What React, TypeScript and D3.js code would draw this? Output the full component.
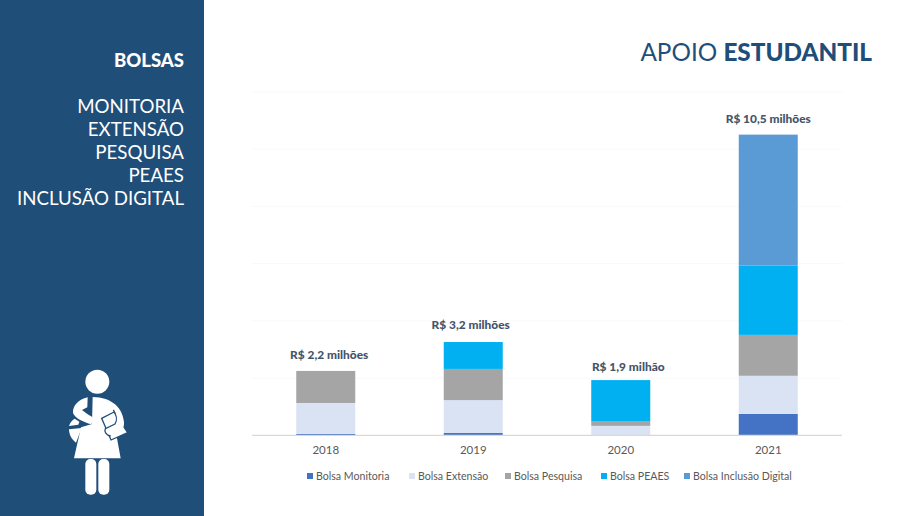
import * as React from "react";
import * as d3 from "d3";

const years = ["2018", "2019", "2020", "2021"];
const seriesNames = ["Bolsa Monitoria", "Bolsa Extensão", "Bolsa Pesquisa", "Bolsa PEAES", "Bolsa Inclusão Digital"];
const monitoria = [0.05, 0.08, 0, 0.75];
const extensao = [1.08, 1.15, 0.33, 1.33];
const pesquisa = [1.12, 1.09, 0.17, 1.43];
const peaes = [0, 0.94, 1.43, 2.42];
const inclusao = [0, 0, 0, 4.58];
const totals = ["R$ 2,2 milhões", "R$ 3,2 milhões", "R$ 1,9 milhão", "R$ 10,5 milhões"];
const sideItems = ["MONITORIA", "EXTENSÃO", "PESQUISA", "PEAES", "INCLUSÃO DIGITAL"];
const gridTicks = [2, 4, 6, 8, 10, 12];
const seriesColors = ["#4472c4", "#dae3f3", "#a5a5a5", "#00b0f0", "#5b9bd5"];

const seriesValues = [monitoria, extensao, pesquisa, peaes, inclusao];
const rows = years.map((year, i) => {
  const row: Record<string, number | string> = { year };
  seriesNames.forEach((name, s) => {
    row[name] = seriesValues[s][i];
  });
  return row;
});

const navy = "#1f4e79";
const labelFont = "Lato, sans-serif";
// the total labels were nudged by hand in the original
const labelShiftX = [3.5, -2.5, 7.5, 0];
const labelShiftY = [0, -1, 3, 0];

// rough pictogram of the student, drawn at 3x and scaled down
const StudentIcon = () => (
  <g transform="translate(0,350) scale(0.3333)" fill="#fff">
    <circle cx={292} cy={95} r={36} />
    <path d="M278 141 C335 141 372 175 372 222 L345 232 L362 325 L222 325 L243 232 L276 222 Z" />
    <path d="M263 142 C235 148 218 168 219 188 C224 205 250 215 274 223 L283 205 L262 192 L246 180 L262 172 Z" />
    <path d="M207 228 C210 218 216 210 224 206 L238 215 L235 224 Z" />
    <path d="M207 238 L245 234 L228 278 C214 268 207 252 207 238 Z" />
    <path d="M305 205 L342 186 L383 248 L333 270 Z" stroke={navy} strokeWidth={4} />
    <path d="M340 180 C350 195 352 212 345 222 L316 236 C312 245 318 256 332 258 C355 250 372 240 372 222 C372 205 358 190 340 180 Z" />
    <path d="M340 180 C350 195 352 212 345 222 L316 236 C312 245 318 256 332 258" fill="none" stroke={navy} strokeWidth={4} />
    <rect x={256} y={327} width={33} height={107} rx={15} />
    <rect x={295} y={327} width={33} height={107} rx={15} />
  </g>
);

const App = () => {
  const x = d3.scaleBand().domain(years).range([252, 842]).paddingInner(0.6).paddingOuter(0.3);
  const y = d3.scaleLinear().domain([0, 12]).range([435.3, 92]);
  const color = d3.scaleOrdinal<string, string>().domain(seriesNames).range(seriesColors);
  const legendX = d3.scaleOrdinal<string, number>().domain(seriesNames).range([307, 409, 505, 601, 684]);
  const stacked = d3.stack<any>().keys(seriesNames)(rows);
  const tops = years.map((_, i) => y(d3.sum(seriesValues, (s) => s[i])));

  return (
    <svg width={919} height={516} style={{ position: "absolute", left: 0, top: 0, background: "#fff" }}>
      <rect width={204} height={516} fill={navy} />
      <text x={184} y={67} textAnchor="end" fill="#fff" fontFamily={labelFont} fontWeight={900} fontSize={18.5}>
        BOLSAS
      </text>
      {sideItems.map((item, i) => (
        <text key={item} x={184} y={113 + i * 23} textAnchor="end" fill="#fff" fontFamily={labelFont} fontSize={18.7}>
          {item}
        </text>
      ))}
      <StudentIcon />

      <text x={872} y={61} textAnchor="end" fill={navy} fontFamily={labelFont} fontSize={24.3}>
        APOIO <tspan fontWeight={900}>ESTUDANTIL</tspan>
      </text>

      {gridTicks.map((t) => (
        <line key={t} x1={252} x2={842} y1={y(t)} y2={y(t)} stroke="#f9f9f9" />
      ))}

      {stacked.map((layer) => (
        <g key={layer.key} fill={color(layer.key)}>
          {layer.map((d, i) => (
            <rect key={years[i]} x={x(years[i])} width={x.bandwidth()} y={y(d[1])} height={y(d[0]) - y(d[1])} />
          ))}
        </g>
      ))}

      <line x1={252} x2={842} y1={y(0)} y2={y(0)} stroke="#d9d9d9" strokeWidth={1.2} />

      {years.map((year, i) => (
        <g key={year} textAnchor="middle" fontFamily={labelFont}>
          <text x={x(year)! + x.bandwidth() / 2} y={454} fontSize={11.5} fill="#595959">
            {year}
          </text>
          <text
            x={x(year)! + x.bandwidth() / 2 + labelShiftX[i]}
            y={tops[i] - 12 + labelShiftY[i]}
            fontSize={11.9}
            fontWeight={900}
            fill="#44546a"
          >
            {totals[i]}
          </text>
        </g>
      ))}

      {seriesNames.map((name) => (
        <g key={name}>
          <rect x={legendX(name)} y={473} width={6} height={6} fill={color(name)} />
          <text x={legendX(name) + 9} y={480} fontFamily={labelFont} fontSize={10.6} fill="#595959">
            {name}
          </text>
        </g>
      ))}
    </svg>
  );
};

export default App;
